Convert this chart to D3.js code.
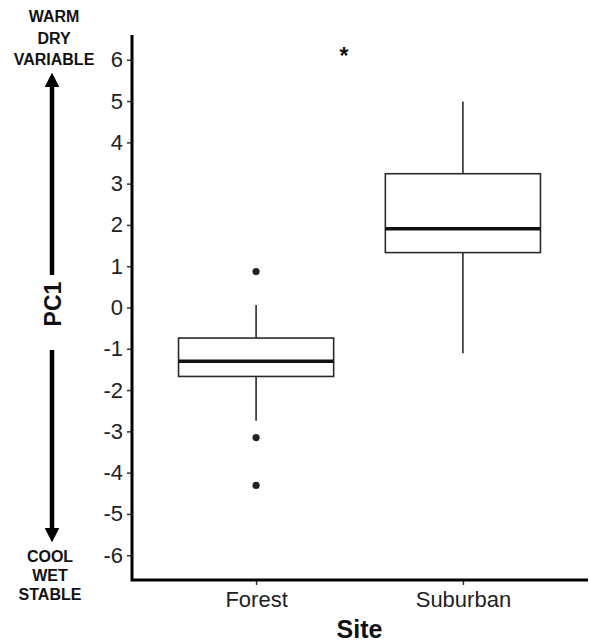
<!DOCTYPE html>
<html>
<head>
<meta charset="utf-8">
<script src="https://cdn.jsdelivr.net/npm/d3@7"></script>
<style>
  body { margin: 0; background: white; }
  text { font-family: "Liberation Sans", Arial, sans-serif; }
</style>
</head>
<body>
<svg id="chart" width="589" height="642"></svg>
<script>
// box plot summaries
const sites = ["Forest", "Suburban"];
const q1 = [-1.67, 1.33];
const medians = [-1.30, 1.91];
const q3 = [-0.74, 3.24];
const whiskerLow = [-2.74, -1.11];
const whiskerHigh = [0.06, 4.99];
const outliers = [[0.87, -3.15, -4.31], []];
const yTicks = [-6, -5, -4, -3, -2, -1, 0, 1, 2, 3, 4, 5, 6];
const topLabels = ["WARM", "DRY", "VARIABLE"];
const bottomLabels = ["COOL", "WET", "STABLE"];
// significance mark, position as fraction of a step past Forest
const sigMark = { pos: 0.425, value: 6.2, text: "*" };

const svg = d3.select("#chart");
const margin = { left: 132, right: 2, top: 35, bottom: 62 };
const width = +svg.attr("width");
const height = +svg.attr("height");

const x = d3.scalePoint()
    .domain(sites)
    .range([margin.left, width - margin.right])
    .padding(0.6);

const y = d3.scaleLinear()
    .domain([-6.6, 6.6])
    .range([height - margin.bottom, margin.top]);

const boxW = x.step() * 0.75;

const boxes = sites.map((s, i) => ({
    site: s, q1: q1[i], med: medians[i], q3: q3[i],
    lo: whiskerLow[i], hi: whiskerHigh[i], out: outliers[i]
}));

const g = svg.append("g");

// whiskers
g.selectAll(".whisker-top")
    .data(boxes).join("line")
    .attr("x1", d => x(d.site)).attr("x2", d => x(d.site))
    .attr("y1", d => y(d.q3)).attr("y2", d => y(d.hi))
    .attr("stroke", "#2a2a2a").attr("stroke-width", 1.6);

g.selectAll(".whisker-bottom")
    .data(boxes).join("line")
    .attr("x1", d => x(d.site)).attr("x2", d => x(d.site))
    .attr("y1", d => y(d.q1)).attr("y2", d => y(d.lo))
    .attr("stroke", "#2a2a2a").attr("stroke-width", 1.6);

// boxes
g.selectAll(".box")
    .data(boxes).join("rect")
    .attr("x", d => x(d.site) - boxW / 2)
    .attr("y", d => y(d.q3))
    .attr("width", boxW)
    .attr("height", d => y(d.q1) - y(d.q3))
    .attr("fill", "white")
    .attr("stroke", "#2a2a2a")
    .attr("stroke-width", 1.6);

// medians
g.selectAll(".median")
    .data(boxes).join("line")
    .attr("x1", d => x(d.site) - boxW / 2)
    .attr("x2", d => x(d.site) + boxW / 2)
    .attr("y1", d => y(d.med)).attr("y2", d => y(d.med))
    .attr("stroke", "#111").attr("stroke-width", 3.5);

// outliers
const outPts = boxes.flatMap(d => d.out.map(v => ({ site: d.site, v: v })));
g.selectAll(".outlier")
    .data(outPts).join("circle")
    .attr("cx", d => x(d.site))
    .attr("cy", d => y(d.v))
    .attr("r", 3.6)
    .attr("fill", "#222");

// significance asterisk
svg.append("text")
    .text(sigMark.text)
    .attr("x", x(sites[0]) + sigMark.pos * x.step())
    .attr("y", y(sigMark.value) + 12)
    .attr("text-anchor", "middle")
    .attr("font-size", 23)
    .attr("font-weight", "bold")
    .attr("fill", "#111");

// y axis (plain hyphen minus like the original)
const yAxis = svg.append("g")
    .attr("transform", `translate(${margin.left},0)`)
    .call(d3.axisLeft(y).tickValues(yTicks).tickFormat(d => String(d))
        .tickSize(5).tickPadding(4).tickSizeOuter(0));
yAxis.select(".domain").remove();
yAxis.selectAll(".tick line").attr("stroke", "#333").attr("stroke-width", 1.5);
yAxis.selectAll(".tick text")
    .attr("font-size", 22)
    .attr("fill", "#222")
    .attr("font-family", "Liberation Sans, Arial, sans-serif");

// x axis
const xAxis = svg.append("g")
    .attr("transform", `translate(0,${height - margin.bottom})`)
    .call(d3.axisBottom(x).tickSize(5).tickPadding(6).tickSizeOuter(0));
xAxis.select(".domain").remove();
xAxis.selectAll(".tick line").attr("stroke", "#333").attr("stroke-width", 1.5);
xAxis.selectAll(".tick text")
    .attr("font-size", 22)
    .attr("fill", "#222")
    .attr("font-family", "Liberation Sans, Arial, sans-serif");

// axis lines (classic theme)
svg.append("path")
    .attr("d", `M${margin.left},${margin.top} V${height - margin.bottom} H${width - 1}`)
    .attr("fill", "none")
    .attr("stroke", "black")
    .attr("stroke-width", 3);

// x title
svg.append("text")
    .text("Site")
    .attr("x", (margin.left + width - margin.right) / 2)
    .attr("y", 638)
    .attr("text-anchor", "middle")
    .attr("font-size", 25)
    .attr("font-weight", "bold")
    .attr("fill", "#111");

// y title with arrows
const ax = 52;
const yMid = 304;
svg.append("text")
    .text("PC1")
    .attr("transform", `translate(${ax + 9},${yMid}) rotate(-90)`)
    .attr("text-anchor", "middle")
    .attr("font-size", 23)
    .attr("font-weight", "bold")
    .attr("fill", "#111");

svg.append("defs").append("marker")
    .attr("id", "head")
    .attr("viewBox", "0 0 10 10")
    .attr("refX", 0).attr("refY", 5)
    .attr("markerWidth", 3.2).attr("markerHeight", 3.2)
    .attr("markerUnits", "strokeWidth")
    .attr("orient", "auto")
    .append("path")
    .attr("d", "M0,0 L10,5 L0,10 Z")
    .attr("fill", "black");

svg.append("line")
    .attr("x1", ax).attr("x2", ax)
    .attr("y1", 275).attr("y2", 87)
    .attr("stroke", "black").attr("stroke-width", 4.5)
    .attr("marker-end", "url(#head)");

svg.append("line")
    .attr("x1", ax).attr("x2", ax)
    .attr("y1", 350).attr("y2", 528)
    .attr("stroke", "black").attr("stroke-width", 4.5)
    .attr("marker-end", "url(#head)");

svg.selectAll(".top-label")
    .data(topLabels).join("text")
    .text(d => d)
    .attr("x", 54)
    .attr("y", (d, i) => 22 + i * 21.5)
    .attr("text-anchor", "middle")
    .attr("font-size", 16)
    .attr("font-weight", "bold")
    .attr("fill", "#111");

svg.selectAll(".bottom-label")
    .data(bottomLabels).join("text")
    .text(d => d)
    .attr("x", 50)
    .attr("y", (d, i) => 562 + i * 19)
    .attr("text-anchor", "middle")
    .attr("font-size", 16)
    .attr("font-weight", "bold")
    .attr("fill", "#111");
</script>
</body>
</html>
